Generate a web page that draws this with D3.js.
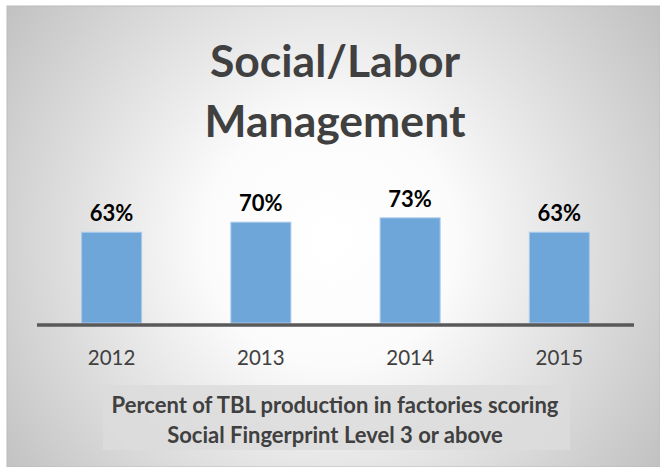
<!DOCTYPE html>
<html><head><meta charset="utf-8">
<script src="https://cdn.jsdelivr.net/npm/d3@7"></script>
<style>html,body{margin:0;padding:0;background:#fff;}svg{display:block;}</style>
</head><body>
<svg id="c" width="660" height="467"></svg>
<script>
const categories = ["2012", "2013", "2014", "2015"];
const values = [63, 70, 73, 63];
const valueLabels = ["63%", "70%", "73%", "63%"];
const titleLines = ["Social/Labor", "Management"];
const captionLines = ["Percent of TBL production in factories scoring", "Social Fingerprint Level 3 or above"];

const svg = d3.select("#c");
const font = "Lato, 'Open Sans', sans-serif";

const defs = svg.append("defs");
const grad = defs.append("radialGradient").attr("id", "bg")
  .attr("gradientUnits", "userSpaceOnUse")
  .attr("cx", 330).attr("cy", 240).attr("r", 420);
grad.append("stop").attr("offset", "0%").attr("stop-color", "#ffffff");
grad.append("stop").attr("offset", "30%").attr("stop-color", "#fbfbfb");
grad.append("stop").attr("offset", "100%").attr("stop-color", "#bdbdbd");

svg.append("rect").attr("x", 7).attr("y", 6).attr("width", 653).attr("height", 461)
  .attr("fill", "url(#bg)").attr("stroke", "#bcbcbc").attr("stroke-width", 1);

// Title
svg.append("g").selectAll("text").data(titleLines).join("text")
  .attr("x", 335).attr("y", (d, i) => 77 + i * 60)
  .attr("text-anchor", "middle")
  .attr("font-family", font).attr("font-weight", "bold").attr("font-size", 44.5)
  .attr("fill", "#404040").text(d => d);

const x = d3.scaleBand().domain(categories).range([37, 634]).paddingInner(0.598).paddingOuter(0.299);
const y = d3.scaleLinear().domain([0, 100]).range([323, 179]);

svg.append("g").selectAll("rect").data(values).join("rect")
  .attr("x", (d, i) => x(categories[i]))
  .attr("y", d => y(d))
  .attr("width", x.bandwidth())
  .attr("height", d => y(0) - y(d))
  .attr("fill", "#6fa6da").attr("stroke", "#a8c9ea").attr("stroke-width", 1);

svg.append("g").selectAll("text").data(values).join("text")
  .attr("x", (d, i) => x(categories[i]) + x.bandwidth() / 2)
  .attr("y", d => y(d) - 11)
  .attr("text-anchor", "middle")
  .attr("font-family", font).attr("font-weight", "bold").attr("font-size", 22)
  .attr("fill", "#000").text((d, i) => valueLabels[i]);

// Axis
const axis = svg.append("g").attr("transform", "translate(0,325)")
  .call(d3.axisBottom(x).tickSize(0).tickPadding(0));
axis.select(".domain").attr("stroke", "#595959").attr("stroke-width", 3.5)
  .attr("d", "M37,0H634");
axis.selectAll(".tick text")
  .attr("y", 40).attr("dy", 0)
  .attr("font-family", font).attr("font-size", 20.5).attr("fill", "#404040");

// Caption
svg.append("rect").attr("x", 103).attr("y", 385).attr("width", 467).attr("height", 65)
  .attr("fill", "#dcdcdc").attr("opacity", 0.85);
svg.append("g").selectAll("text").data(captionLines).join("text")
  .attr("x", 335).attr("y", (d, i) => 413.3 + i * 29.4)
  .attr("text-anchor", "middle")
  .attr("font-family", font).attr("font-weight", "bold").attr("font-size", 22)
  .attr("fill", "#404040").text(d => d);
</script>
</body></html>
